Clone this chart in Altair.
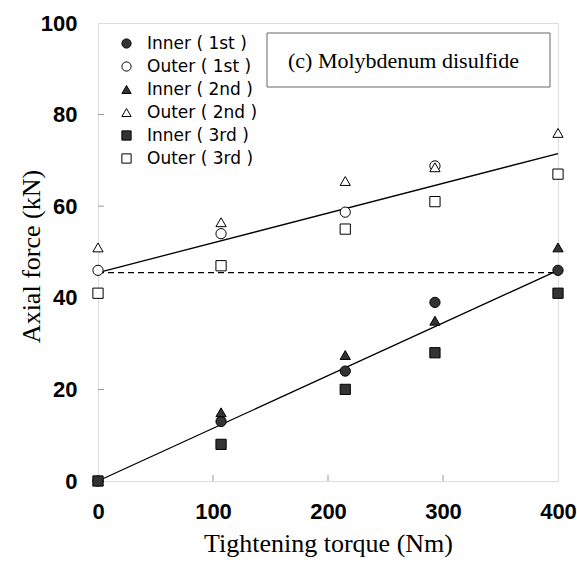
import altair as alt
import pandas as pd

# ---- data ----
torque = [0, 107, 215, 293, 400]
series_names = ["Inner ( 1st )", "Outer ( 1st )", "Inner ( 2nd )",
                "Outer ( 2nd )", "Inner ( 3rd )", "Outer ( 3rd )"]
inner_1st = [0, 13, 24, 39, 46]
outer_1st = [46, 54, 58.7, 68.8, None]
inner_2nd = [0, 15, 27.5, 35, 51]
outer_2nd = [51, 56.5, 65.5, 68.5, 76]
inner_3rd = [0, 8, 20, 28, 41]
outer_3rd = [41, 47, 55, 61, 67]

fit_x = [0, 400]
inner_fit = [0, 46]
outer_fit = [45.5, 71.5]
ref_level = [45.5, 45.5]

x_ticks = [0, 100, 200, 300, 400]
y_ticks = [0, 20, 40, 60, 80, 100]

series_values = [inner_1st, outer_1st, inner_2nd, outer_2nd, inner_3rd, outer_3rd]
shapes = ["circle", "circle", "triangle-up", "triangle-up", "square", "square"]
fills = ["#333333", "white", "#333333", "white", "#333333", "white"]
strokes = ["black"] * 6

rows = []
for name, vals in zip(series_names, series_values):
    for t, v in zip(torque, vals):
        if v is not None:
            rows.append({"torque": t, "force": v, "series": name})
pts = pd.DataFrame(rows)

fit_rows = []
for t, a, b in zip(fit_x, inner_fit, outer_fit):
    fit_rows.append({"torque": t, "force": a, "line": "inner"})
    fit_rows.append({"torque": t, "force": b, "line": "outer"})
fits = pd.DataFrame(fit_rows)
ref = pd.DataFrame({"torque": fit_x, "force": ref_level})

W, H = 460, 458
xs = alt.Scale(domain=[0, 400], nice=False)
ys = alt.Scale(domain=[0, 100], nice=False)

x_axis = alt.Axis(values=x_ticks, title="Tightening torque (Nm)", grid=False, domain=False,
                  ticks=False, labelFont="Liberation Sans", labelFontWeight="bold",
                  labelFontSize=22, labelColor="black", labelPadding=20, labelFlush=False,
                  titleFont="Liberation Serif", titleFontWeight="normal", titleFontSize=26,
                  titleColor="black", titlePadding=8)
y_axis = alt.Axis(values=y_ticks, title="Axial force (kN)", grid=False, domain=False,
                  ticks=False, labelFont="Liberation Sans", labelFontWeight="bold",
                  labelFontSize=22, labelColor="black", labelPadding=21, labelFlush=False,
                  titleFont="Liberation Serif", titleFontWeight="normal", titleFontSize=26,
                  titleColor="black", titleBaseline="middle", titleX=-67, titleY=233)

base_lines = alt.Chart(fits).mark_line(color="black", strokeWidth=1.3).encode(
    x=alt.X("torque:Q", scale=xs, axis=x_axis),
    y=alt.Y("force:Q", scale=ys, axis=y_axis),
    detail="line:N",
)

ref_line = alt.Chart(ref).mark_line(color="black", strokeWidth=1.2, strokeDash=[6, 4]).encode(
    x=alt.X("torque:Q", scale=xs),
    y=alt.Y("force:Q", scale=ys),
)

# inward ticks
xt = pd.DataFrame({"v": x_ticks[1:-1]})
x_tick_marks = alt.Chart(xt).mark_rule(color="#999999", strokeWidth=1).encode(
    x=alt.X("v:Q", scale=xs), y=alt.value(H), y2=alt.value(H - 6))
yt = pd.DataFrame({"v": y_ticks[1:-1]})
y_tick_marks = alt.Chart(yt).mark_rule(color="#999999", strokeWidth=1).encode(
    y=alt.Y("v:Q", scale=ys), x=alt.value(0), x2=alt.value(6))

leg = alt.Legend(title=None, orient="none", legendX=20, legendY=12)

points = alt.Chart(pts).mark_point(filled=True, size=105, strokeWidth=1, opacity=1).encode(
    x=alt.X("torque:Q", scale=xs),
    y=alt.Y("force:Q", scale=ys),
    shape=alt.Shape("series:N", scale=alt.Scale(domain=series_names, range=shapes), legend=leg),
    fill=alt.Fill("series:N", scale=alt.Scale(domain=series_names, range=fills), legend=leg),
    stroke=alt.Stroke("series:N", scale=alt.Scale(domain=series_names, range=strokes), legend=leg),
)

box = alt.Chart(pd.DataFrame({"a": [0]})).mark_rect(fill="white", stroke="#666666",
                                                   strokeWidth=1).encode(
    x=alt.value(169), x2=alt.value(452), y=alt.value(10), y2=alt.value(64))
label = alt.Chart(pd.DataFrame({"a": [0]})).mark_text(
    text="(c) Molybdenum disulfide", font="Liberation Serif", fontSize=22, align="left",
    baseline="middle", color="black").encode(x=alt.value(190), y=alt.value(38))

chart = alt.layer(ref_line, base_lines, x_tick_marks, y_tick_marks, box, label, points).properties(
    width=W, height=H,
    autosize=alt.AutoSizeParams(type="none"),
    padding={"left": 98, "top": 23, "right": 19, "bottom": 90},
).configure_view(stroke="black", strokeWidth=2).configure(background="white").configure_legend(
    labelFont="DejaVu Sans", labelFontSize=17, labelColor="black", symbolSize=85,
    symbolStrokeWidth=1, labelOffset=12, rowPadding=5,
)

chart.save("out.html", embed_options={"renderer": "svg", "actions": False})
